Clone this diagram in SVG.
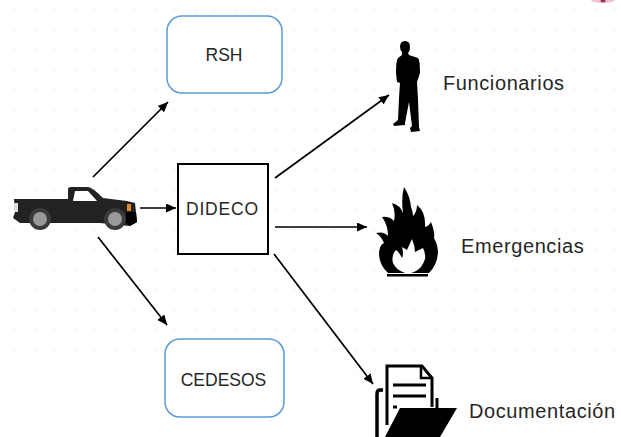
<svg xmlns="http://www.w3.org/2000/svg" width="621" height="437" viewBox="0 0 621 437">
<style>
.box{fill:#fff;stroke:#5b9bd5;stroke-width:1.5}
.t{font-family:"Liberation Sans",Arial,sans-serif;font-size:17.5px;fill:#262626}
.l{font-family:"Liberation Sans",Arial,sans-serif;font-size:20px;letter-spacing:.6px;fill:#262626}
.c{stroke:#000;stroke-width:1.7;fill:none;marker-end:url(#a)}
.i{filter:url(#b)}
</style>
<defs>
<marker id="a" markerUnits="userSpaceOnUse" markerWidth="11" markerHeight="10" refX="10" refY="4.5" orient="auto"><path d="M0 0L10 4.500L0 9z" fill="#000"/></marker>
<pattern id="d" width="20" height="20" patternUnits="userSpaceOnUse" x="5" y="0"><circle cx="10" cy="10" r="1.500" fill="#f6f6f6"/></pattern>
<filter id="b" x="-5%" y="-5%" width="110%" height="110%"><feGaussianBlur stdDeviation="0.5"/></filter>
</defs>
<rect width="621" height="437" fill="#fff"/>
<rect x="0" y="0" width="621" height="370" fill="url(#d)"/>
<ellipse cx="603" cy="0" rx="12" ry="3" fill="#f0c0cc"/>
<circle cx="603" cy="0" r="2.500" fill="#a03050"/>
<g id="connectors">
<path class="c" d="M93 177L168 102"/>
<path class="c" d="M140 208L176 208"/>
<path class="c" d="M98 237L167 325"/>
<path class="c" d="M275 178L389 95"/>
<path class="c" d="M275 227L367 227"/>
<path class="c" d="M274 254L373 384"/>
</g>
<g id="rsh"><rect class="box" x="167" y="16" width="115" height="77" rx="15"/><text class="t" x="224" y="61" text-anchor="middle">RSH</text></g>
<g id="dideco"><rect x="178" y="164" width="90" height="90" fill="#fff" stroke="#000" stroke-width="2"/><text class="t" x="222" y="215" text-anchor="middle" textLength="72">DIDECO</text></g>
<g id="cedesos"><rect class="box" x="165" y="339" width="119" height="78" rx="15"/><text class="t" x="223.500" y="386" text-anchor="middle">CEDESOS</text></g>
<g id="truck">
<g class="i">
<path d="M14 199L68 199L68 189Q68 187 71 187L88 187Q92 187 103 198L127 201L135 203L137 222L130 226L100 223L50 223L20 223L13 218L15 212z" fill="#232323"/>
<path d="M75 191L88 191L97 201L73 201z" fill="#fff"/>
<path d="M14 203L18 203L18 212L14 212z" fill="#ddd"/>
<rect x="127" y="204" width="4" height="7" fill="#e08a2a"/>
<path d="M126 212H136L137 222L130 226L125 222z" fill="#000"/>
<circle cx="40" cy="219" r="11" fill="#3a3a3a"/><circle cx="40" cy="219" r="7" fill="#999"/>
<circle cx="115" cy="219" r="11" fill="#3a3a3a"/><circle cx="115" cy="219" r="7" fill="#999"/>
</g>
</g>
<g id="funcionarios">
<path class="i" fill="#000" d="M405 41Q410 41 410 47Q410 51 408 53L409 55L418 58Q420 60 420 73L417 82L418 100L419 127L420 131L411 132L410 128L412 126L409 102L405 123L405 125L394 126L393 124L398 120L399 98L400 83L397 82L396 73Q396 60 398 58L402 55L402 52Q400 50 400 47Q400 41 405 41z"/>
<text class="l" x="443" y="90">Funcionarios</text>
</g>
<g id="emergencias">
<path class="i" fill="#000" d="M404 187Q410 196 411 207Q413 212 413 216Q417 212 417 205Q426 212 425 227Q429 226 431 222Q435 232 434 238Q438 245 438 253Q437 265 429 273H388Q380 266 379 255Q379 245 384 243Q381 236 376 233Q384 231 388 236Q388 225 382 217Q389 216 394 221Q396 212 392 203Q400 205 403 213Q401 198 404 187z"/>
<path class="i" fill="#fff" d="M407 250L412 239Q415 246 415 252L423 248Q426 254 425 259Q422 268 416 271Q411 274 405 273Q396 270 393 263Q391 255 396 250Q399 252 402 258Q404 254 402 247z"/>
<rect class="i" x="387" y="274" width="41" height="2.500" fill="#000"/>
<text class="l" x="461" y="253">Emergencias</text>
</g>
<g id="documentacion">
<g class="i">
<path d="M387 425V366H422L432 378V407" fill="#fff" stroke="#000" stroke-width="3"/>
<path d="M421 367V378H431" fill="none" stroke="#000" stroke-width="2.500"/>
<path d="M393 385H426M393 396H426M393 407H397" stroke="#000" stroke-width="3"/>
<path d="M383 390H380Q377 390 377 394V437" fill="none" stroke="#000" stroke-width="3.500"/>
<path d="M437 398V410" stroke="#000" stroke-width="3"/>
<path d="M400 408H457L440 437H385z" fill="#000"/>
</g>
<text class="l" x="469" y="418">Documentación</text>
</g>
</svg>
